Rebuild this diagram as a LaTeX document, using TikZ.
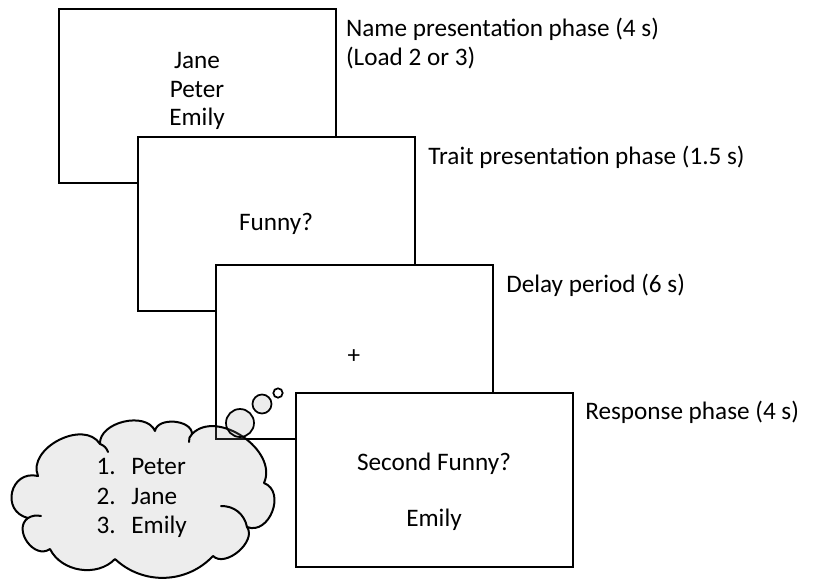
\documentclass[tikz,border=0pt]{standalone}
\usepackage{fontspec}
\setmainfont{Carlito}
\definecolor{cloudgray}{HTML}{9A9A9A}

\begin{document}
\begin{tikzpicture}[x=0.75pt, y=-0.75pt,
    every node/.style={font=\fontsize{18.9}{21.6}\selectfont},
    screen/.style={draw, line width=1.5pt, fill=white, minimum width=207.75pt, minimum height=130.5pt, inner sep=0},
    phase/.style={anchor=base west, inner sep=0},
    cloudline/.style={line width=1.5pt, line join=round, line cap=round},
    bubble/.style={circle, draw, line width=1.3pt, fill=cloudgray, fill opacity=0.18, inner sep=0}]
    \useasboundingbox (0,0) rectangle (836,579);

    % the four screens, each one on top of the last
    \node[screen] (names) at (197,96) {};
    \node[align=center] (namelist) at (197,91) {Jane\\Peter\\Emily};
    \node[phase] (namelbl) at ([xshift=7pt, yshift=-21pt]names.north east) {Name presentation phase (4 s)};
    \node[phase] (loadlbl) at ([yshift=-21.8pt]namelbl.base west) {(Load 2 or 3)};

    \node[screen] (trait) at (276,224) {};
    \node (traitq) at (trait.center) {Funny?};
    \node[phase] (traitlbl) at ([xshift=9.5pt, yshift=-21pt]trait.north east) {Trait presentation phase (1.5 s)};

    \node[screen] (delay) at (354.5,352) {};
    \node (fix) at (354,357) {+};
    \node[phase] (delaylbl) at ([xshift=9pt, yshift=-21pt]delay.north east) {Delay period (6 s)};

    \node[screen] (resp) at (434.5,479.5) {};
    \node (respq) at (434,464) {Second Funny?};
    \node (respname) at (434,520) {Emily};
    \node[phase] (resplbl) at ([xshift=8.25pt, yshift=-21pt]resp.north east) {Response phase (4 s)};

    % thought cloud, puff by puff
    \coordinate (pA) at (38,476);
    \coordinate (pB) at (100,444);
    \coordinate (pC) at (155,431);
    \coordinate (pD) at (192,434);
    \coordinate (pE) at (264,483);
    \coordinate (pF) at (247,527);
    \coordinate (pG) at (213,556);
    \coordinate (pH) at (115,559);
    \coordinate (pI) at (50,549);
    \coordinate (pJ) at (28,518);
    \draw[cloudline, fill=cloudgray, fill opacity=0.18]
        (pA) to[bend left=85, looseness=1.1] (pB) to[bend left=80] (pC) to[bend left=85] (pD)
        to[bend left=80, looseness=1.05] (pE) to[bend left=90, looseness=1.3] (pF) to[bend left=85] (pG)
        to[bend left=45] (pH) to[bend left=55] (pI) to[bend left=90, looseness=1.3] (pJ)
        to[bend left=90, looseness=1.7] (pA) -- cycle;
    % little folds inside the cloud
    \draw[cloudline] (pB) to[bend left=25] (108,452);
    \draw[cloudline] (pD) to[bend right=25] (189,442);
    \draw[cloudline] (221,506) to[bend left=40] (pF);
    \draw[cloudline] (pJ) to[bend left=20] (41,516);

    \node[bubble, minimum size=21pt] (bubbleA) at (240,423) {};
    \node[bubble, minimum size=14.25pt] (bubbleB) at (262,404) {};
    \node[circle, draw, line width=1.3pt, inner sep=0, minimum size=7pt] (bubbleC) at (278,393) {};
    \node[anchor=west, align=left, font=\fontsize{18.9}{22.3}\selectfont] (recall) at (92,498)
        {\makebox[26pt][l]{1.}Peter\\\makebox[26pt][l]{2.}Jane\\\makebox[26pt][l]{3.}Emily};
\end{tikzpicture}
\end{document}
